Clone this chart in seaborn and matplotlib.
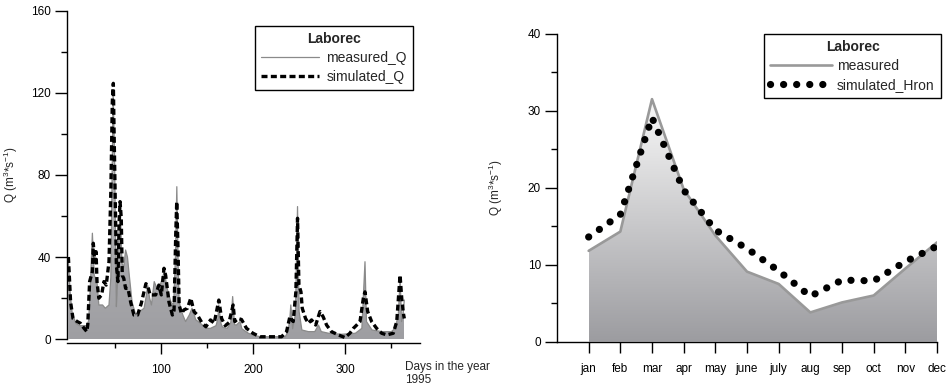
import numpy as np
import pandas as pd
import matplotlib
matplotlib.use('Agg')
import matplotlib.pyplot as plt
import seaborn as sns
from matplotlib.colors import LinearSegmentedColormap
from matplotlib.lines import Line2D
from matplotlib.ticker import FixedLocator

# Daily discharge 1995 (peaks and troughs)
meas_day = [0, 2, 4, 8, 12, 20, 22, 24, 26, 28, 31, 33, 37, 40, 44, 46, 48.5, 50, 52, 53,
            55, 56.5, 58, 60, 62, 64, 66, 69, 73, 77, 82, 84, 86, 88, 90, 93, 96, 100, 104, 107,
            111, 114, 116, 117.5, 119, 120, 124, 127, 131, 134, 138, 143, 149, 154, 160, 162, 163, 165, 167, 172,
            176, 178, 180, 182, 186, 188, 195, 202, 209, 235, 238, 240, 241, 243, 246, 248.3, 250, 253, 260, 267,
            271, 274, 282, 296, 311, 318, 321.4, 323, 329, 340, 350, 354, 357.5, 359.5, 361, 363, 364]
meas_q = [38, 22, 13, 7.7, 6.5, 6.5, 9, 28, 51.6, 31, 28, 16.6, 16.6, 15, 16.6, 30, 120, 90, 15.8, 25,
          55, 60, 37, 35, 43.4, 40, 31, 18, 11.7, 13.3, 15, 20, 26, 20, 16.6, 28, 24.7, 27, 32.9, 24.7,
          18.2, 16.6, 40, 74.3, 35, 18, 11.7, 8.5, 11.7, 15, 9.4, 7.7, 5.2, 5.2, 6.5, 10, 16.6, 8, 5.8, 5.2,
          8, 20.7, 7, 6.8, 8.5, 5, 2.8, 1.6, 1.1, 1.1, 3.6, 10, 16.6, 5, 12, 64.6, 13.4, 4.4, 3.6, 3.6,
          6.8, 3.6, 2.8, 2.3, 2.8, 5.2, 37.7, 8.5, 4.4, 3.6, 3.6, 5.2, 11.7, 30, 8.5, 14, 19]

sim_day = [0, 1, 2.4, 5, 9.6, 13, 17, 20, 21, 23, 26, 27, 28.4, 30, 31, 33, 36, 38.5, 41, 44,
           46, 47.6, 48.7, 49.4, 50.5, 52, 53.7, 55, 56, 57.3, 58.4, 60, 62, 64.6, 67.5, 71, 75, 79, 84, 86,
           88.5, 91, 94.6, 98, 100.7, 103.6, 105.4, 109, 112.7, 114.5, 116.3, 117.4, 118.8, 120, 122.4, 125.3, 129, 132.6, 136.2, 139.8,
           145, 149, 154, 158, 163, 166, 170, 174, 178.5, 180.3, 184, 187.6, 193, 200, 207.5, 218, 231, 236.4, 240, 243.6,
           246.5, 248.3, 249.8, 252, 253.4, 257, 260, 263.5, 268, 272.6, 276, 279.8, 285, 292.5, 299.7, 305, 308.8, 312.4, 316, 319.6,
           321.4, 324.3, 328.6, 334, 339.5, 345, 352, 355.8, 357.6, 359.4, 361.2, 363, 364]
sim_q = [40, 31, 18, 10, 8.5, 7.7, 5.2, 3.6, 7, 28, 32.9, 46.7, 37.7, 42.6, 28, 19.9, 21.5, 28, 26.3, 37.7,
         71.9, 115.8, 124.7, 104.4, 75, 36, 28, 57, 67, 58.9, 31, 29.6, 24.7, 24.7, 18, 11.7, 11.7, 17.4, 27, 26,
         21.5, 21.5, 21.5, 26.3, 21.5, 34.5, 31, 18, 11.7, 14, 50.7, 67, 44, 16.6, 12.5, 14.2, 15, 19.9, 13.3, 11.7,
         7.7, 6, 9.3, 7.7, 19, 10, 6.5, 8, 16.6, 8.5, 10, 9.5, 5.2, 2.8, 1.1, 1.1, 1.1, 3.6, 10.9, 8.5,
         23, 58.9, 26.4, 23, 15, 10, 7.7, 9.3, 6.8, 13.4, 10.9, 6.8, 3.6, 2, 0.7, 2.8, 5.2, 6.8, 8.5, 19.9,
         23, 13.4, 8.5, 5.2, 2.8, 2, 2.8, 8.5, 19.9, 31.2, 19.9, 12.5, 10]

# Monthly means
months = ['jan', 'feb', 'mar', 'apr', 'may', 'june', 'july', 'aug', 'sep', 'oct', 'nov', 'dec']
month_meas = [11.8, 14.3, 31.5, 19.8, 13.8, 9.1, 7.5, 3.8, 5.1, 6.0, 9.5, 12.9]
month_sim = [13.6, 16.5, 29.1, 19.7, 14.5, 12.1, 9.2, 5.9, 8.0, 7.9, 10.4, 12.4]

sns.set_theme(style='ticks')
plt.rcParams.update({
    'font.family': ['Liberation Sans', 'DejaVu Sans'],
    'mathtext.fontset': 'custom',
    'mathtext.rm': 'Liberation Sans',
    'mathtext.it': 'Liberation Sans:italic',
    'mathtext.bf': 'Liberation Sans:bold',
    'axes.edgecolor': 'black',
    'axes.linewidth': 1.0,
    'xtick.color': 'black',
    'ytick.color': 'black',
    'xtick.labelsize': 8.5,
    'ytick.labelsize': 8.5,
})

FIG_W, FIG_H = 950, 392
fig = plt.figure(figsize=(FIG_W / 100, FIG_H / 100), dpi=100)
ax1 = fig.add_axes([67 / FIG_W, 53 / FIG_H, 353 / FIG_W, 328 / FIG_H])
ax2 = fig.add_axes([557 / FIG_W, 50.3 / FIG_H, 380 / FIG_W, 308 / FIG_H])


def gradient_fill(ax, x, y, c_low, c_high, ytop):
    poly = ax.fill_between(x, y, 0, facecolor='none', edgecolor='none')
    cmap = LinearSegmentedColormap.from_list('g', [c_low, c_high])
    grad = np.linspace(0, 1, 256).reshape(-1, 1)
    im = ax.imshow(grad, cmap=cmap, origin='lower', aspect='auto',
                   extent=[min(x), max(x), 0, ytop], zorder=1)
    im.set_clip_path(poly.get_paths()[0], transform=ax.transData)


# ---- left: daily series ----
df_meas = pd.DataFrame({'day': meas_day, 'Q': meas_q})
df_sim = pd.DataFrame({'day': sim_day, 'Q': sim_q})
gradient_fill(ax1, meas_day, meas_q, '#9e9ea2', '#c4c4c6', 125)
sns.lineplot(data=df_meas, x='day', y='Q', ax=ax1, color='#8a8a8a', lw=0.9,
             estimator=None, sort=False, zorder=2)
sns.lineplot(data=df_sim, x='day', y='Q', ax=ax1, color='black', lw=2.4,
             estimator=None, sort=False, zorder=3, dashes=False,
             linestyle=(0, (1.8, 1.0)))

ax1.set_xlim(-1.5, 381)
ax1.set_ylim(0, 160)
ax1.spines[['top', 'right']].set_visible(False)
ax1.spines['bottom'].set_position(('outward', 3))
ax1.xaxis.set_major_locator(FixedLocator([100, 200, 300]))
ax1.xaxis.set_minor_locator(FixedLocator([50, 150, 250, 350]))
ax1.yaxis.set_major_locator(FixedLocator([0, 40, 80, 120, 160]))
ax1.yaxis.set_minor_locator(FixedLocator([20, 60, 100, 140]))
ax1.tick_params(axis='x', which='major', length=8, width=1, pad=7)
ax1.tick_params(axis='x', which='minor', length=3.6, width=1)
ax1.tick_params(axis='y', which='major', length=8.6, width=1, pad=3)
ax1.tick_params(axis='y', which='minor', length=4.3, width=1)
ax1.set_xlabel('')
ax1.set_ylabel(r'Q (m$^{3}$*s$^{-1}$)', fontsize=8.5)
ax1.yaxis.set_label_coords((20 - 67) / 353, 0.5)
fig.text(405 / FIG_W, 1 - 361 / FIG_H, 'Days in the year\n1995', fontsize=8.5,
         ha='left', va='top', linespacing=1.1)

leg_handles = [Line2D([], [], color='#8a8a8a', lw=0.9),
               Line2D([], [], color='black', lw=2.4, linestyle=(0, (1.8, 1.0)))]
leg1 = ax1.legend(leg_handles, ['measured_Q', 'simulated_Q'], title='Laborec',
                  loc='upper right', bbox_to_anchor=(413 / FIG_W, 1 - 26 / FIG_H),
                  bbox_transform=fig.transFigure, borderaxespad=0, fontsize=10,
                  title_fontproperties={'weight': 'bold', 'size': 10},
                  frameon=True, fancybox=False, framealpha=1, edgecolor='black',
                  handlelength=4.2, handletextpad=0.5, labelspacing=0.35, borderpad=0.45)
leg1.get_frame().set_linewidth(1.0)

# ---- right: monthly means ----
mx = np.arange(1, 13)
df_month = pd.DataFrame({'m': mx, 'measured': month_meas, 'simulated': month_sim})
gradient_fill(ax2, mx, month_meas, '#9c9ca0', '#fafafa', 32)
sns.lineplot(data=df_month, x='m', y='measured', ax=ax2, color='#999999', lw=1.9,
             estimator=None, zorder=2)
sns.lineplot(data=df_month, x='m', y='simulated', ax=ax2, color='black', lw=5.2,
             estimator=None, zorder=3, linestyle=(0, (0.01, 1.8)),
             dash_capstyle='round', solid_capstyle='round')

ax2.set_xlim(0, 12)
ax2.set_ylim(0, 40)
ax2.spines[['top', 'right']].set_visible(False)
ax2.xaxis.set_major_locator(FixedLocator(list(mx)))
ax2.set_xticklabels(months)
ax2.yaxis.set_major_locator(FixedLocator([0, 10, 20, 30, 40]))
ax2.yaxis.set_minor_locator(FixedLocator([5, 15, 25, 35]))
ax2.tick_params(axis='x', which='major', length=8, width=1, pad=7)
ax2.tick_params(axis='y', which='major', length=8.6, width=1, pad=3)
ax2.tick_params(axis='y', which='minor', length=4.3, width=1)
ax2.set_xlabel('')
ax2.set_ylabel(r'Q (m$^{3}$*s$^{-1}$)', fontsize=8.5)
ax2.yaxis.set_label_coords((505 - 557) / 380, 0.5)

leg_handles2 = [Line2D([], [], color='#999999', lw=1.9),
                Line2D([], [], color='black', lw=5.2, linestyle=(0, (0.01, 1.8)),
                       dash_capstyle='round')]
leg2 = ax2.legend(leg_handles2, ['measured', 'simulated_Hron'], title='Laborec',
                  loc='upper right', bbox_to_anchor=(941 / FIG_W, 1 - 34 / FIG_H),
                  bbox_transform=fig.transFigure, borderaxespad=0, fontsize=10,
                  title_fontproperties={'weight': 'bold', 'size': 10},
                  frameon=True, fancybox=False, framealpha=1, edgecolor='black',
                  handlelength=4.4, handletextpad=0.4, labelspacing=0.35, borderpad=0.45)
leg2.get_frame().set_linewidth(1.0)

fig.savefig('out.png', dpi=100)
